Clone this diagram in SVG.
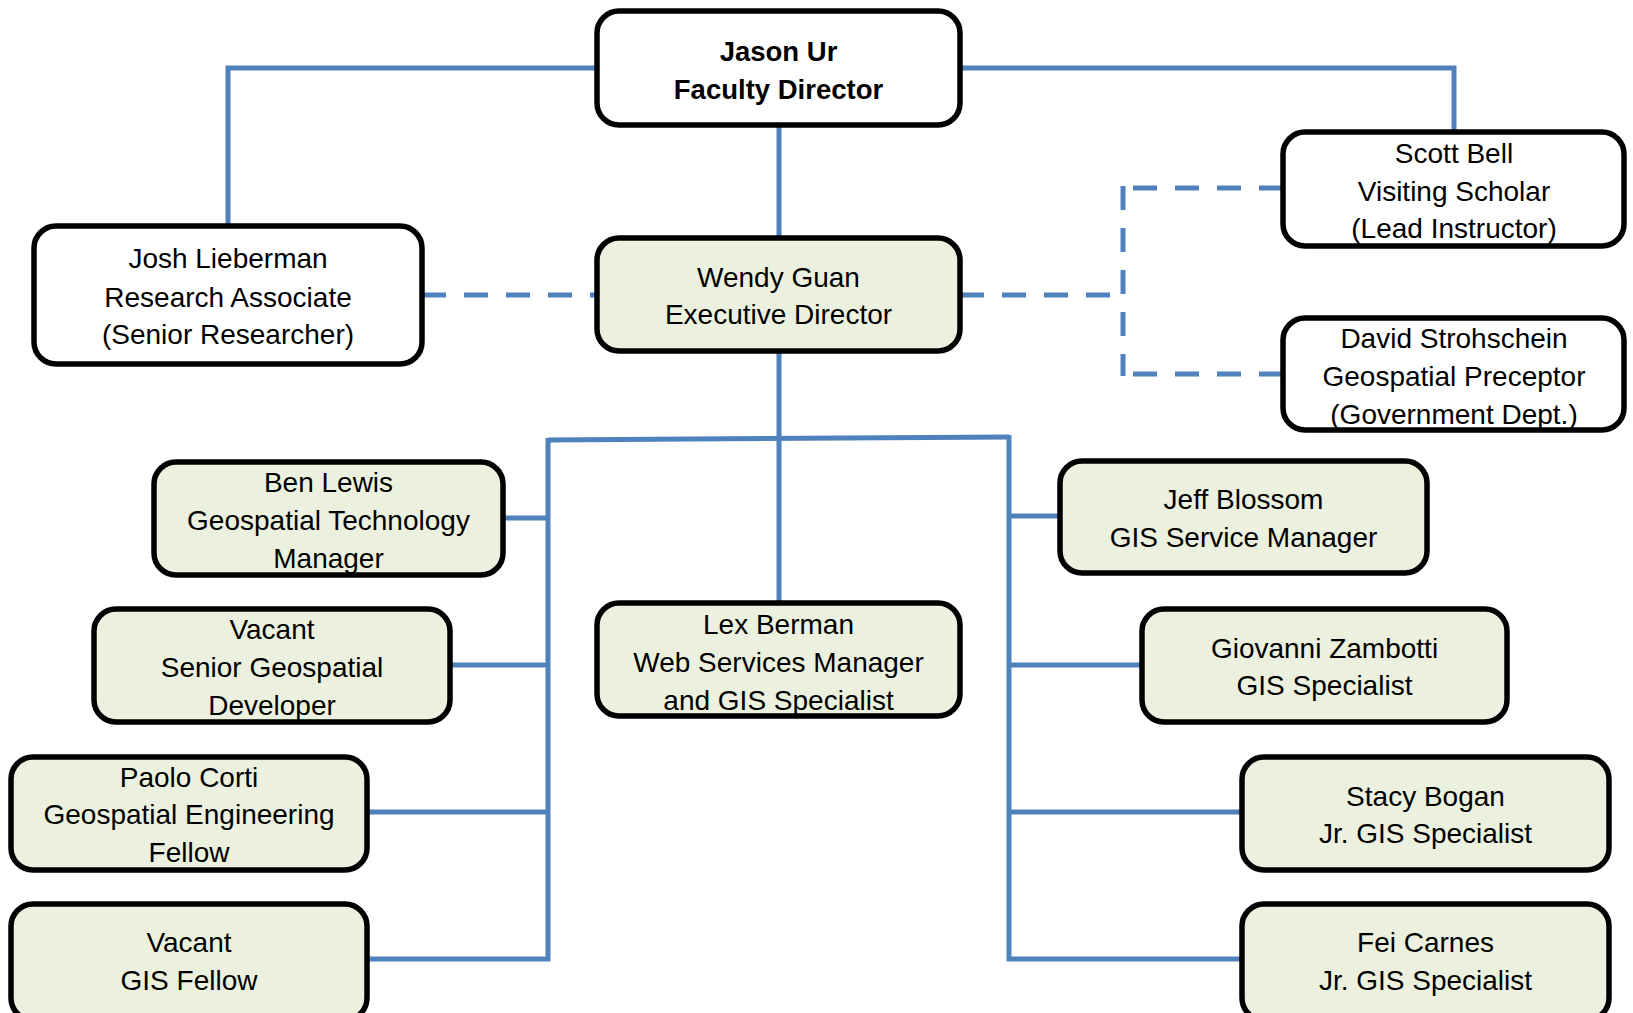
<svg xmlns="http://www.w3.org/2000/svg" width="1633" height="1013" viewBox="0 0 1633 1013">
<style>
.box{stroke:#000;stroke-width:5.5}
.w{fill:#fff}
.g{fill:#EBF1DE}
text{font-family:"Liberation Sans",Arial,sans-serif;font-size:28px;fill:#000;text-anchor:middle}
.b{font-weight:bold;font-size:27.5px}
.c{fill:none;stroke:#4F81BD;stroke-width:5}
.d{stroke-dasharray:24 18}
</style>
<rect width="1633" height="1013" fill="#fff"/>
<g id="connectors">
<path class="c" d="M597 68 H228 V225"/>
<path class="c" d="M960 68 H1454 V132"/>
<path class="c" d="M779 125 V237"/>
<path class="c d" d="M422 295 H597"/>
<path class="c d" d="M960 295 H1118"/>
<path class="c d" d="M1283 188 H1123"/>
<path class="c d" d="M1283 374 H1123"/>
<path class="c d" d="M1123 186 V376"/>
<path class="c" d="M779 351 V603"/>
<path class="c" d="M548 440 L1009 437"/>
<path class="c" d="M548 438 V959 H367"/>
<path class="c" d="M503 518 H548 M450 665 H548 M367 812 H548"/>
<path class="c" d="M1009 435 V959 H1242"/>
<path class="c" d="M1009 516 H1060 M1009 665 H1142 M1009 812 H1242"/>
</g>
<g id="jason">
<rect class="box w" x="597" y="11" width="363" height="114" rx="22"/>
<text class="b" x="778.5" y="61">Jason Ur</text>
<text class="b" x="778.5" y="99">Faculty Director</text>
</g>
<g id="josh">
<rect class="box w" x="34" y="226" width="388" height="138" rx="22"/>
<text x="228" y="268">Josh Lieberman</text>
<text x="228" y="307">Research Associate</text>
<text x="228" y="344">(Senior Researcher)</text>
</g>
<g id="wendy">
<rect class="box g" x="597" y="238" width="363" height="113" rx="22"/>
<text x="778.5" y="287">Wendy Guan</text>
<text x="778.5" y="324">Executive Director</text>
</g>
<g id="scott">
<rect class="box w" x="1283" y="132" width="341" height="114" rx="22"/>
<text x="1454" y="163">Scott Bell</text>
<text x="1454" y="201">Visiting Scholar</text>
<text x="1454" y="238">(Lead Instructor)</text>
</g>
<g id="david">
<rect class="box w" x="1283" y="318" width="341" height="112" rx="22"/>
<text x="1454" y="348">David Strohschein</text>
<text x="1454" y="386">Geospatial Preceptor</text>
<text x="1454" y="424">(Government Dept.)</text>
</g>
<g id="ben">
<rect class="box g" x="154" y="462" width="349" height="113" rx="22"/>
<text x="328.5" y="492">Ben Lewis</text>
<text x="328.5" y="530">Geospatial Technology</text>
<text x="328.5" y="568">Manager</text>
</g>
<g id="vacant-senior">
<rect class="box g" x="94" y="609" width="356" height="113" rx="22"/>
<text x="272" y="639">Vacant</text>
<text x="272" y="677">Senior Geospatial</text>
<text x="272" y="715">Developer</text>
</g>
<g id="paolo">
<rect class="box g" x="11" y="757" width="356" height="113" rx="22"/>
<text x="189" y="787">Paolo Corti</text>
<text x="189" y="824">Geospatial Engineering</text>
<text x="189" y="862">Fellow</text>
</g>
<g id="vacant-gis">
<rect class="box g" x="11" y="904" width="356" height="116" rx="22"/>
<text x="189" y="952">Vacant</text>
<text x="189" y="990">GIS Fellow</text>
</g>
<g id="lex">
<rect class="box g" x="597" y="603" width="363" height="113" rx="22"/>
<text x="778.5" y="634">Lex Berman</text>
<text x="778.5" y="672">Web Services Manager</text>
<text x="778.5" y="710">and GIS Specialist</text>
</g>
<g id="jeff">
<rect class="box g" x="1060" y="461" width="367" height="112" rx="22"/>
<text x="1243.5" y="509">Jeff Blossom</text>
<text x="1243.5" y="547">GIS Service Manager</text>
</g>
<g id="giovanni">
<rect class="box g" x="1142" y="609" width="365" height="113" rx="22"/>
<text x="1324.5" y="658">Giovanni Zambotti</text>
<text x="1324.5" y="695">GIS Specialist</text>
</g>
<g id="stacy">
<rect class="box g" x="1242" y="757" width="367" height="113" rx="22"/>
<text x="1425.5" y="806">Stacy Bogan</text>
<text x="1425.5" y="843">Jr. GIS Specialist</text>
</g>
<g id="fei">
<rect class="box g" x="1242" y="904" width="367" height="116" rx="22"/>
<text x="1425.5" y="952">Fei Carnes</text>
<text x="1425.5" y="990">Jr. GIS Specialist</text>
</g>
</svg>
